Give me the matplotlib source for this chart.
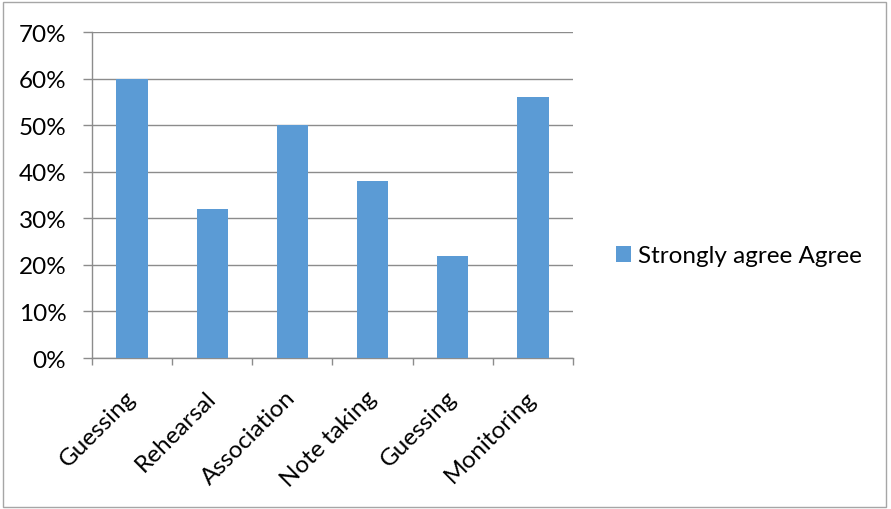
import matplotlib
matplotlib.use("Agg")
import matplotlib.pyplot as plt
from matplotlib.patches import Rectangle
from matplotlib.ticker import PercentFormatter, MultipleLocator, FixedLocator, NullFormatter

categories = ["Guessing", "Rehearsal", "Association", "Note taking", "Guessing", "Monitoring"]
values = [60, 32, 50, 38, 22, 56]
series_name = "Strongly agree Agree"

plt.rcParams["font.family"] = ["Lato", "DejaVu Sans"]
FS = 17.5

fig = plt.figure(figsize=(8.91, 5.10), dpi=100)
ax = fig.add_axes([92 / 891, 1 - 359 / 510, 481 / 891, 326 / 510])

x = list(range(len(categories)))
bar_color = "#5B9BD5"
bars = ax.bar(x, values, width=0.39, color=bar_color, label=series_name, zorder=3)

ax.set_xlim(-0.5, len(categories) - 0.5)
ax.set_ylim(0, 70)
ax.yaxis.set_major_locator(MultipleLocator(10))
ax.yaxis.set_major_formatter(PercentFormatter(decimals=0))
ax.grid(axis="y", color="#8C8C8C", linewidth=1.0, zorder=0)

for s in ("top", "right"):
    ax.spines[s].set_visible(False)
for s in ("left", "bottom"):
    ax.spines[s].set_color("#8C8C8C")
    ax.spines[s].set_linewidth(1.0)

ax.tick_params(axis="y", length=6.5, width=1.0, color="#8C8C8C", pad=12,
               labelsize=FS, labelcolor="black")

# category boundaries carry the tick marks, labels sit at the centres
ax.xaxis.set_major_locator(FixedLocator([i - 0.5 for i in range(len(categories) + 1)]))
ax.xaxis.set_major_formatter(NullFormatter())
ax.xaxis.set_minor_locator(FixedLocator(x))
ax.set_xticklabels(categories, minor=True, rotation=45, ha="right", va="center",
                   rotation_mode="anchor")
ax.tick_params(axis="x", which="major", length=5, width=1.0, color="#8C8C8C")
ax.tick_params(axis="x", which="minor", length=0, pad=26, labelsize=FS,
               labelcolor="black")

leg = fig.legend(handles=[bars], labels=[series_name], loc="center left",
                 bbox_to_anchor=(594 / 891, 1 - 257 / 510), frameon=False,
                 fontsize=FS, handlelength=0.63, handleheight=0.63,
                 handletextpad=0.3)

fig.patches.append(Rectangle((3 / 891, 2 / 510), 883 / 891, 505 / 510,
                             transform=fig.transFigure, fill=False,
                             edgecolor="#A6A6A6", linewidth=1.0))

fig.savefig("out.png", dpi=100, facecolor="white")
